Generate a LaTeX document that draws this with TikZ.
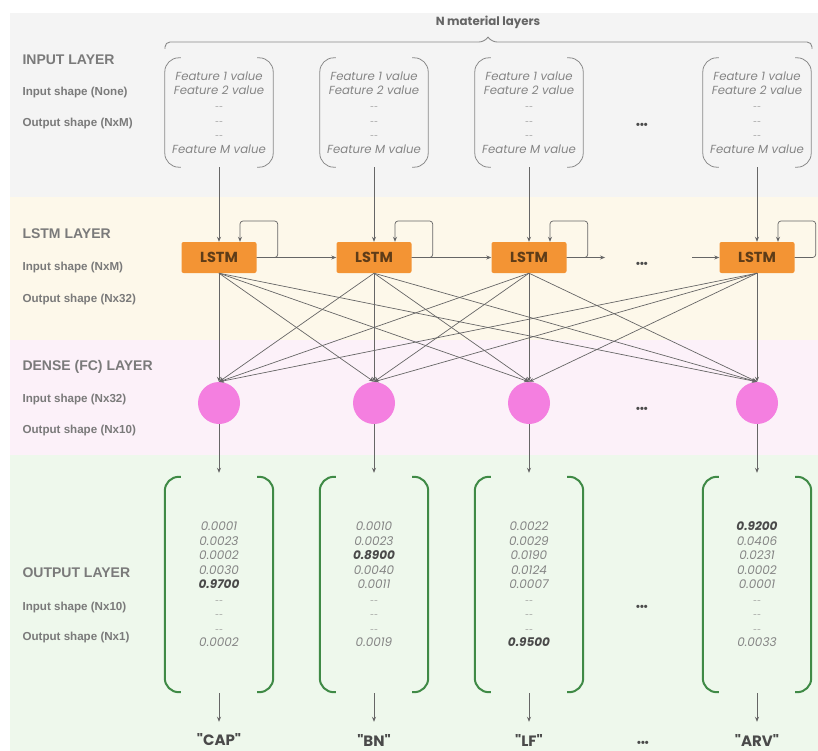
\documentclass[tikz,border=0pt]{standalone}
\usepackage{fontspec}
\setmainfont{Liberation Sans}
\newfontfamily\pop{Poppins}
\usetikzlibrary{arrows.meta,calc}
\definecolor{bgin}{HTML}{F4F4F4}
\definecolor{bglstm}{HTML}{FDF8EA}
\definecolor{bgdense}{HTML}{FCF1F9}
\definecolor{bgout}{HTML}{EEF8EC}
\definecolor{labgray}{HTML}{7A7A7A}
\definecolor{valgray}{HTML}{858585}
\definecolor{darkgray}{HTML}{4A4A4A}
\definecolor{linegray}{HTML}{666666}
\definecolor{lstmor}{HTML}{F39434}
\definecolor{lstmtxt}{HTML}{5E3C18}
\definecolor{densepink}{HTML}{F47FE0}
\definecolor{brkgreen}{HTML}{3F8A46}
\definecolor{brkgray}{HTML}{8A8A8A}
\newcommand\hlv[1]{{\color{darkgray}\bfseries #1}}
\newcommand\dsh{{\scriptsize --}}
\newcommand\mybrk[2]{%
  \draw[#2, rounded corners=14pt] ([xshift=16pt]#1.north west) -- (#1.north west) -- (#1.south west) -- ([xshift=16pt]#1.south west);
  \draw[#2, rounded corners=14pt] ([xshift=-16pt]#1.north east) -- (#1.north east) -- (#1.south east) -- ([xshift=-16pt]#1.south east);}
\begin{document}
\begin{tikzpicture}[x=1pt,y=-1pt,
  head/.style={anchor=west, text=labgray, font=\bfseries\fontsize{14}{16}\selectfont},
  lab/.style={anchor=west, text=labgray, font=\bfseries\fontsize{11.6}{13}\selectfont},
  featbox/.style={minimum width=108pt, minimum height=109pt, inner sep=0pt, align=center, text=valgray, font=\pop\itshape\fontsize{11.7}{14.6}\selectfont},
  outbox/.style={minimum width=108pt, minimum height=215pt, inner sep=0pt, align=center, text=valgray, font=\pop\itshape\fontsize{12}{14.5}\selectfont},
  lstmbox/.style={fill=lstmor, minimum width=75pt, minimum height=31pt, rounded corners=2pt, inner sep=0pt, text=lstmtxt, font=\pop\bfseries\fontsize{14.5}{16}\selectfont},
  dense/.style={circle, fill=densepink, minimum size=42pt, inner sep=0pt},
  conn/.style={draw=linegray, line width=0.7pt, -{Stealth[length=5pt,width=4pt]}},
  result/.style={inner sep=0pt, text=darkgray, font=\pop\bfseries\fontsize{15}{17}\selectfont},
  dots/.style={inner sep=0pt, text=darkgray, font=\bfseries\fontsize{11}{11}\selectfont}
]
\useasboundingbox (0,0) rectangle (818,751);
\fill[white] (0,0) rectangle (818,751);
\fill[bgin] (10,13) rectangle (818,197);
\fill[bglstm] (10,197) rectangle (818,340);
\fill[bgdense] (10,340) rectangle (818,455);
\fill[bgout] (10,455) rectangle (818,751);

% left labels
\node[head] (hin) at (19,60) {INPUT LAYER};
\node[lab] (lin1) at (19,93) {Input shape (None)};
\node[lab] (lin2) at (19,124) {Output shape (NxM)};
\node[head] (hls) at (19,234) {LSTM LAYER};
\node[lab] (lls1) at (19,267) {Input shape (NxM)};
\node[lab] (lls2) at (19,299) {Output shape (Nx32)};
\node[head] (hde) at (19,367) {DENSE (FC) LAYER};
\node[lab] (lde1) at (19,399) {Input shape (Nx32)};
\node[lab] (lde2) at (19,430) {Output shape (Nx10)};
\node[head] (hou) at (19,573) {OUTPUT LAYER};
\node[lab] (lou1) at (19,607) {Input shape (Nx10)};
\node[lab] (lou2) at (19,637) {Output shape (Nx1)};

% brace
\node[text=darkgray!85, font=\pop\bfseries\fontsize{11.8}{13}\selectfont] (ntitle) at (488,22) {N material layers};
\draw[brkgray, line width=0.9pt, rounded corners=5pt] (165,49) -- (165,42) -- (484,42) -- (488,37);
\draw[brkgray, line width=0.9pt, rounded corners=5pt] (488,37) -- (492,42) -- (812,42) -- (812,49);

% input feature columns
\foreach \i/\x in {1/219, 2/374, 3/529, 4/757}{
  \node[featbox] (in\i) at (\x,112.5) {Feature 1 value\\Feature 2 value\\\dsh\\\dsh\\\dsh\\Feature M value};
  \mybrk{in\i}{brkgray, line width=0.8pt}
  \node[lstmbox] (lstm\i) at (\x,257.5) {LSTM};
  \node[dense] (d\i) at (\x,403) {};
  \draw[conn] (in\i.south) -- (lstm\i.north);
  \draw[conn, rounded corners=3pt] (lstm\i.east) -- ++(21,0) -- ++(0,-36.5) -| ([xshift=21pt]lstm\i.north);
}
\node[dots] (dotin) at (642,126) {•••};
\node[dots] (dotls) at (642,265) {•••};
\node[dots] (dotde) at (642,410) {•••};
\node[dots] (dotou) at (642,608) {•••};
\node[dots] (dotres) at (643,744) {•••};

\coordinate (c3e) at (605,257.5);
\coordinate (c4w) at (692,257.5);
\draw[conn] (lstm1.east) -- (lstm2.west);
\draw[conn] (lstm2.east) -- (lstm3.west);
\draw[conn] (lstm3.east) -- (c3e);
\draw[conn] (c4w) -- (lstm4.west);

\foreach \i in {1,...,4}{
  \foreach \j in {1,...,4}{
    \draw[conn] (lstm\i.south) -- (d\j.north);
  }
}

% output columns
\node[outbox] (out1) at (219,584.5) {0.0001\\0.0023\\0.0002\\0.0030\\\hlv{0.9700}\\\dsh\\\dsh\\\dsh\\0.0002};
\node[outbox] (out2) at (374,584.5) {0.0010\\0.0023\\\hlv{0.8900}\\0.0040\\0.0011\\\dsh\\\dsh\\\dsh\\0.0019};
\node[outbox] (out3) at (529,584.5) {0.0022\\0.0029\\0.0190\\0.0124\\0.0007\\\dsh\\\dsh\\\dsh\\\hlv{0.9500}};
\node[outbox] (out4) at (757,584.5) {\hlv{0.9200}\\0.0406\\0.0231\\0.0002\\0.0001\\\dsh\\\dsh\\\dsh\\0.0033};
\node[result] (r1) at (219,740) {"CAP"};
\node[result] (r2) at (374,740) {"BN"};
\node[result] (r3) at (529,740) {"LF"};
\node[result] (r4) at (757,740) {"ARV"};
\foreach \i in {1,...,4}{
  \mybrk{out\i}{brkgreen, line width=2pt}
  \draw[conn, shorten >=4pt] (d\i.south) -- (out\i.north);
  \draw[conn, shorten <=1pt, shorten >=12pt] (out\i.south) -- (r\i.north);
}
\end{tikzpicture}
\end{document}
